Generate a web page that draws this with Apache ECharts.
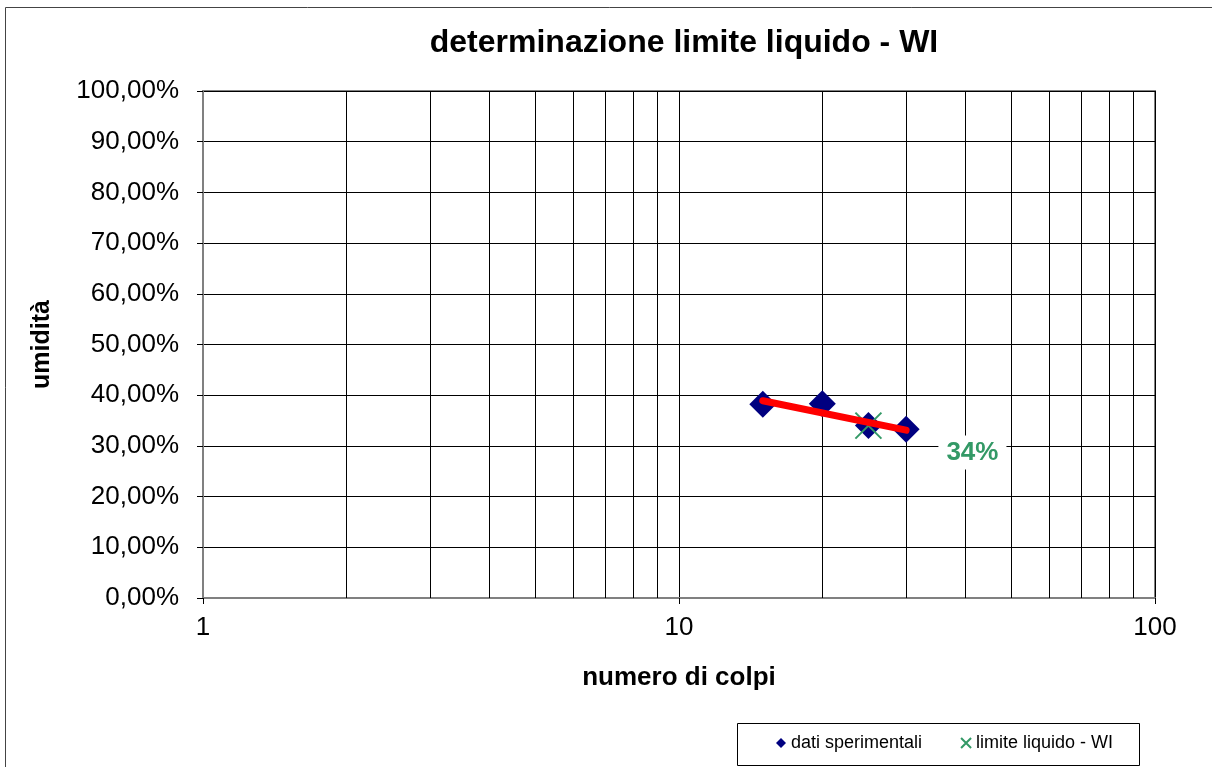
<!DOCTYPE html>
<html><head><meta charset="utf-8">
<script src="https://cdn.jsdelivr.net/npm/echarts@6/dist/echarts.min.js"></script>
<style>html,body{margin:0;padding:0;background:#fff}#c{width:1212px;height:767px}</style>
</head><body><div id="c"></div>
<script>
// data
const colpi = [15, 20, 25, 30];
const umidita = [38.2, 38.3, 34.0, 33.3];
const limiteX = [25];
const limiteY = [34];
const limiteLabel = '34%';
const fitX = [15, 30];
const fitY = [38.9, 33.1];
const minorGridX = [2, 3, 4, 5, 6, 7, 8, 9, 20, 30, 40, 50, 60, 70, 80, 90];
const titleText = 'determinazione limite liquido - WI';
const xName = 'numero di colpi';
const yName = 'umidità';
const seriesNames = ['dati sperimentali', 'limite liquido - WI'];

const FONT = '"Liberation Sans", Arial, sans-serif';
const DIAMOND = 'path://M0,-1L1,0L0,1L-1,0Z';
const CROSS = 'path://M0,0L10,10M10,0L0,10';
const GREEN = '#339966';

const chart = echarts.init(document.getElementById('c'), null, {renderer: 'canvas'});
chart.setOption({
  animation: false,
  backgroundColor: '#fff',
  textStyle: {fontFamily: FONT},
  title: {
    text: titleText, left: 679, top: 22, textAlign: 'center',
    textStyle: {fontFamily: FONT, fontSize: 32, fontWeight: 'bold', color: '#000'}
  },
  graphic: [
    {type: 'rect', shape: {x: 5.5, y: 7.5, width: 1300, height: 1000}, style: {fill: 'none', stroke: '#444', lineWidth: 1}, silent: true, z: -10},
    {type: 'rect', shape: {x: 737.5, y: 723.5, width: 402, height: 42}, style: {fill: '#fff', stroke: '#000', lineWidth: 1}, silent: true, z: 0}
  ],
  legend: {
    data: [
      {name: seriesNames[0], icon: DIAMOND},
      {name: seriesNames[1], icon: CROSS}
    ],
    left: 776, top: 734, itemWidth: 10, itemHeight: 10, itemGap: 38, padding: 0,
    textStyle: {fontFamily: FONT, fontSize: 18, color: '#000'}, z: 5
  },
  grid: {left: 203, right: 57, top: 91, bottom: 169, show: true, borderColor: '#808080', borderWidth: 2, containLabel: false},
  xAxis: {
    type: 'log', logBase: 10, min: 1, max: 100,
    name: xName, nameLocation: 'middle', nameGap: 67,
    nameTextStyle: {fontFamily: FONT, fontSize: 26, fontWeight: 'bold', color: '#000'},
    axisLine: {show: true, lineStyle: {color: '#808080', width: 2}},
    axisTick: {show: true, inside: false, length: 6, lineStyle: {color: '#000'}},
    axisLabel: {fontFamily: FONT, fontSize: 26, color: '#000', margin: 17, formatter: v => String(v)},
    splitLine: {show: true, lineStyle: {color: '#000', width: 1}},
    minorTick: {show: false}, minorSplitLine: {show: false}
  },
  yAxis: {
    type: 'value', min: 0, max: 100, interval: 10,
    name: yName, nameLocation: 'middle', nameGap: 148, nameRotate: 90,
    nameTextStyle: {fontFamily: FONT, fontSize: 25, fontWeight: 'bold', color: '#000'},
    axisLine: {show: true, lineStyle: {color: '#808080', width: 2}},
    axisTick: {show: true, inside: false, length: 6, lineStyle: {color: '#000'}},
    axisLabel: {fontFamily: FONT, fontSize: 26, color: '#000', margin: 24, formatter: v => v.toFixed(2).replace('.', ',') + '%'},
    splitLine: {show: true, lineStyle: {color: '#000', width: 1}}
  },
  series: [
    {
      name: seriesNames[0], type: 'scatter', symbol: DIAMOND, symbolSize: 27,
      itemStyle: {color: '#000080', opacity: 1},
      data: colpi.map((c, i) => [c, umidita[i]]), z: 3,
      markLine: {
        silent: true, symbol: ['none', 'none'], label: {show: false},
        lineStyle: {color: '#000', width: 1, type: 'solid', opacity: 1},
        data: minorGridX.map(v => ({xAxis: v})), z: 1
      }
    },
    {
      name: seriesNames[1], type: 'scatter', symbol: CROSS, symbolSize: 26,
      itemStyle: {color: 'rgba(0,0,0,0)', borderColor: GREEN, borderWidth: 2, opacity: 1},
      data: limiteX.map((c, i) => [c, limiteY[i]]), z: 4,
      label: {
        show: true, formatter: limiteLabel, position: 'inside', offset: [104, 27],
        fontFamily: FONT, fontSize: 26, fontWeight: 'bold', color: GREEN, opacity: 1,
        backgroundColor: '#ffffff', padding: [4, 8]
      }
    },
    {
      name: 'fit', type: 'line', symbol: 'none', smooth: false,
      lineStyle: {color: '#ff0000', width: 7, cap: 'round', opacity: 1},
      data: fitX.map((c, i) => [c, fitY[i]]), z: 5
    }
  ]
});
</script></body></html>
